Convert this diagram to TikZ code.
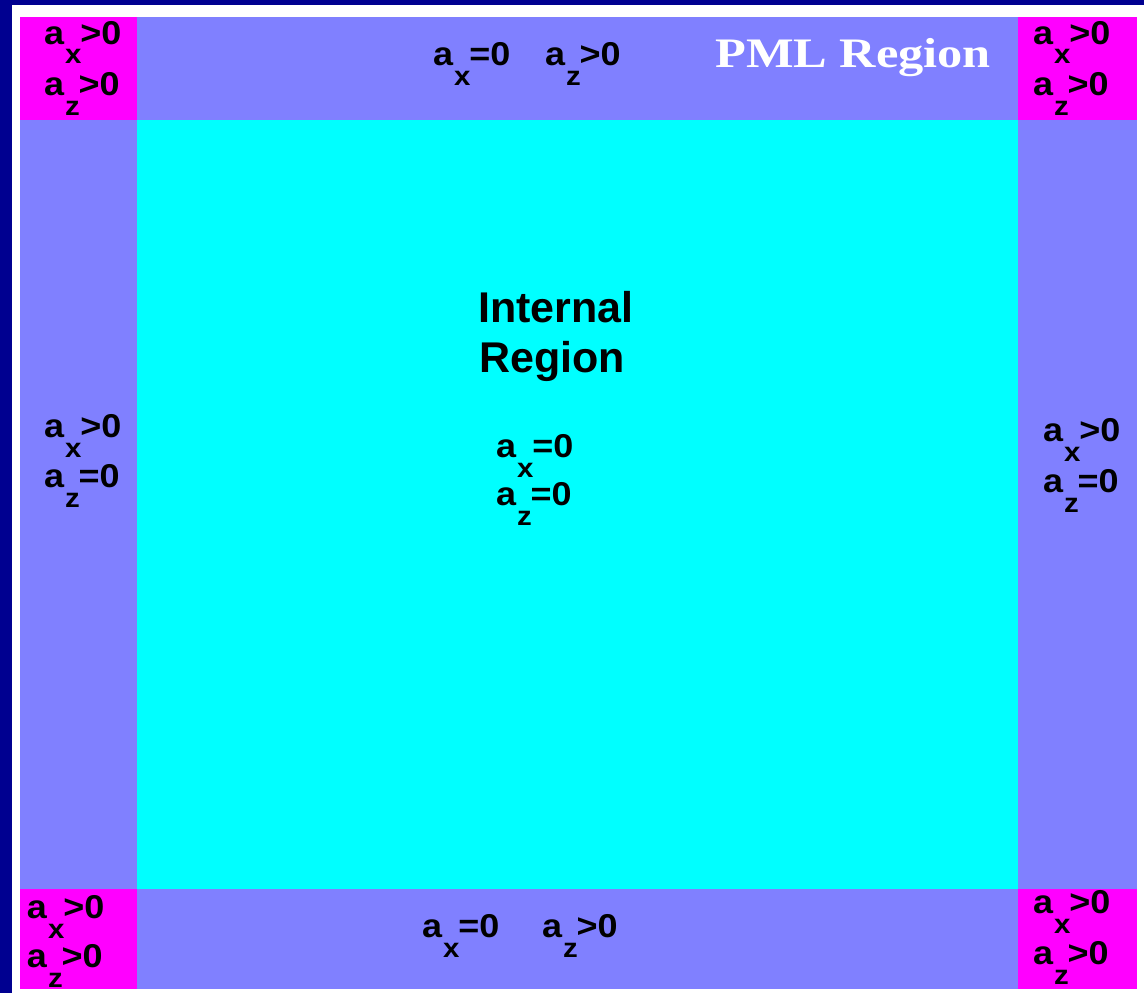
\documentclass[tikz,border=0pt]{standalone}
\usepackage{fontspec}
\setmainfont{Liberation Sans}
\newfontfamily\pmlfont{Liberation Serif}
\definecolor{navybg}{RGB}{0,0,144}
\definecolor{pmlblue}{RGB}{128,128,255}
\definecolor{cornermag}{RGB}{255,0,255}
\definecolor{innercyan}{RGB}{0,255,255}
\newcommand{\ssub}[1]{\raisebox{-20pt}{\fontsize{27}{27}\selectfont #1}}
\newcommand{\albl}[3]{\scalebox{1.09}[1]{a\kern1pt\ssub{#1}\kern-1pt#2#3}}
\tikzset{
  lbl/.style={anchor=base west, inner sep=0pt, outer sep=0pt, font=\fontsize{33}{33}\selectfont\bfseries, text=black},
  big/.style={anchor=base, inner sep=0pt, font=\fontsize{43}{43}\selectfont\bfseries, text=black},
}
\begin{document}
\begin{tikzpicture}[x=1pt,y=-1pt]
\useasboundingbox (0,0) rectangle (1144,993);
\fill[navybg] (0,0) rectangle (1144,993);
\fill[white] (12,5) rectangle (1144,993);
% regions
\fill[pmlblue] (20,17) rectangle (1137,989);
\fill[innercyan] (137,120) rectangle (1018,889);
\fill[cornermag] (20,17) rectangle (137,120);
\fill[cornermag] (1018,17) rectangle (1137,120);
\fill[cornermag] (20,889) rectangle (137,989);
\fill[cornermag] (1018,889) rectangle (1137,989);
% corner labels
\node[lbl] (tl1) at (44,44) {\albl{x}{>}{0}};
\node[lbl] (tl2) at (44,95) {\albl{z}{>}{0}};
\node[lbl] (tr1) at (1033,44) {\albl{x}{>}{0}};
\node[lbl] (tr2) at (1033,95) {\albl{z}{>}{0}};
\node[lbl] (bl1) at (27,918) {\albl{x}{>}{0}};
\node[lbl] (bl2) at (27,967) {\albl{z}{>}{0}};
\node[lbl] (br1) at (1033,913) {\albl{x}{>}{0}};
\node[lbl] (br2) at (1033,964) {\albl{z}{>}{0}};
% side labels
\node[lbl] (t1) at (433,65) {\albl{x}{=}{0}};
\node[lbl] (t2) at (545,65) {\albl{z}{>}{0}};
\node[lbl] (b1) at (422,937) {\albl{x}{=}{0}};
\node[lbl] (b2) at (542,937) {\albl{z}{>}{0}};
\node[lbl] (l1) at (44,437) {\albl{x}{>}{0}};
\node[lbl] (l2) at (44,487) {\albl{z}{=}{0}};
\node[lbl] (r1) at (1043,441) {\albl{x}{>}{0}};
\node[lbl] (r2) at (1043,492) {\albl{z}{=}{0}};
% internal
\node[big] (int1) at (556,322) {Internal};
\node[big] (int2) at (552,372) {Region};
\node[lbl] (c1) at (496,457) {\albl{x}{=}{0}};
\node[lbl] (c2) at (496,505) {\albl{z}{=}{0}};
% PML label
\node[anchor=base west, inner sep=0pt, text=white, font=\pmlfont\fontsize{42}{42}\selectfont\bfseries] (pml) at (715,67) {\scalebox{1.2}[1]{PML Region}};
\end{tikzpicture}
\end{document}
